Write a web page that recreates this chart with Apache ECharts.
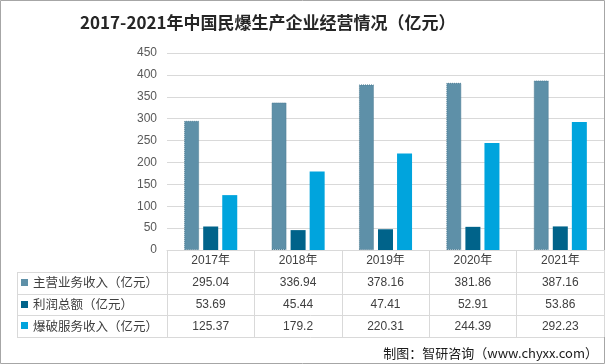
<!DOCTYPE html>
<html>
<head>
<meta charset="utf-8">
<script src="https://cdn.jsdelivr.net/npm/echarts@6/dist/echarts.min.js"></script>
<style>
html,body{margin:0;padding:0;background:#fff;}
#main{width:605px;height:364px;}
</style>
</head>
<body>
<div id="main"></div>
<script>
// ---- data ----
const years = ['2017年', '2018年', '2019年', '2020年', '2021年'];
const seriesNames = ['主营业务收入（亿元）', '利润总额（亿元）', '爆破服务收入（亿元）'];
const mainRevenue = [295.04, 336.94, 378.16, 381.86, 387.16];
const totalProfit = [53.69, 45.44, 47.41, 52.91, 53.86];
const blastRevenue = [125.37, 179.2, 220.31, 244.39, 292.23];
const yTicks = [0, 50, 100, 150, 200, 250, 300, 350, 400, 450];
const titleText = '2017-2021年中国民爆生产企业经营情况（亿元）';
const sourceText = '制图：智研咨询（www.chyxx.com）';

// ---- styling ----
const colors = ['#5E90A8', '#00638A', '#00A4DD'];
const lineColor = '#d9d9d9';
const textColor = '#404040';
const seriesData = [mainRevenue, totalProfit, blastRevenue];

const chart = echarts.init(document.getElementById('main'), null, {renderer: 'canvas'});

const baseOption = {
  animation: false,
  backgroundColor: '#fff',
  title: {
    text: titleText,
    left: 75,
    top: 9,
    textStyle: {
      fontFamily: '"Noto Sans CJK SC", sans-serif',
      fontSize: 17,
      fontWeight: 'bold',
      color: '#262626'
    }
  },
  grid: {left: 167, right: 1, top: 53, bottom: 114, containLabel: false},
  xAxis: {
    type: 'category',
    data: years,
    boundaryGap: true,
    axisLine: {show: true, lineStyle: {color: lineColor, width: 1}},
    axisTick: {show: true, alignWithLabel: false, length: 87, lineStyle: {color: lineColor, width: 1}},
    axisLabel: {
      margin: 5,
      fontSize: 12,
      color: textColor,
      fontFamily: '"Liberation Sans", "Noto Sans CJK SC", sans-serif'
    }
  },
  yAxis: {
    type: 'value',
    min: yTicks[0],
    max: yTicks[yTicks.length - 1],
    interval: yTicks[1] - yTicks[0],
    axisLine: {show: false},
    axisTick: {show: false},
    axisLabel: {
      margin: 10,
      fontSize: 12,
      color: '#595959',
      fontFamily: '"Liberation Sans", sans-serif'
    },
    splitLine: {lineStyle: {color: lineColor, width: 1}}
  },
  series: seriesNames.map((name, i) => ({
    name: name,
    type: 'bar',
    data: seriesData[i],
    barWidth: 15,
    barGap: '27%',
    itemStyle: i === 0
      ? {color: colors[i], borderColor: '#4d7c93', borderWidth: 1, borderType: 'dotted'}
      : {color: colors[i]}
  }))
};

chart.setOption(baseOption);

// ---- table under the chart, positioned from the axes ----
const y0 = chart.convertToPixel({yAxisIndex: 0}, 0);
const xRight = 604;
const tableLeft = 17;
const rowH = 21.8;
const g = [];

// horizontal lines
for (let r = 1; r <= 4; r++) {
  const y = Math.round(y0 + rowH * r) + 0.5;
  g.push({type: 'line', shape: {x1: tableLeft, y1: y, x2: xRight, y2: y},
          style: {stroke: lineColor, lineWidth: 1}, silent: true});
}
// left vertical line
g.push({type: 'line',
        shape: {x1: tableLeft + 0.5, y1: Math.round(y0 + rowH) + 0.5, x2: tableLeft + 0.5, y2: Math.round(y0 + rowH * 4) + 0.5},
        style: {stroke: lineColor, lineWidth: 1}, silent: true});

seriesNames.forEach((name, i) => {
  const yc = y0 + rowH * (i + 1) + rowH / 2;
  g.push({type: 'rect', shape: {x: 21, y: Math.round(yc - 4), width: 7, height: 7},
          style: {fill: colors[i]}, silent: true});
  g.push({type: 'text', x: 33, y: yc,
          style: {text: name, fill: textColor, fontSize: 12.5,
                  fontFamily: '"Noto Sans CJK SC", sans-serif',
                  textAlign: 'left', textVerticalAlign: 'middle', verticalAlign: 'middle'}, silent: true});
  seriesData[i].forEach((v, j) => {
    const xc = chart.convertToPixel({xAxisIndex: 0}, years[j]);
    g.push({type: 'text', x: xc, y: yc,
            style: {text: String(v), fill: textColor, fontSize: 12,
                    fontFamily: '"Liberation Sans", sans-serif',
                    textAlign: 'center', textVerticalAlign: 'middle', verticalAlign: 'middle'}, silent: true});
  });
});

// source note
g.push({type: 'text', x: 598, y: 353,
        style: {text: sourceText, fill: '#1a1a1a', fontSize: 13,
                fontFamily: '"Noto Sans CJK SC", sans-serif',
                textAlign: 'right', textVerticalAlign: 'middle', verticalAlign: 'middle'}, silent: true});

// outer frame
g.push({type: 'rect', shape: {x: 0.5, y: 0.5, width: 604, height: 363},
        style: {fill: 'none', stroke: '#a6a6a6', lineWidth: 1}, silent: true});

chart.setOption({graphic: g});
</script>
</body>
</html>
